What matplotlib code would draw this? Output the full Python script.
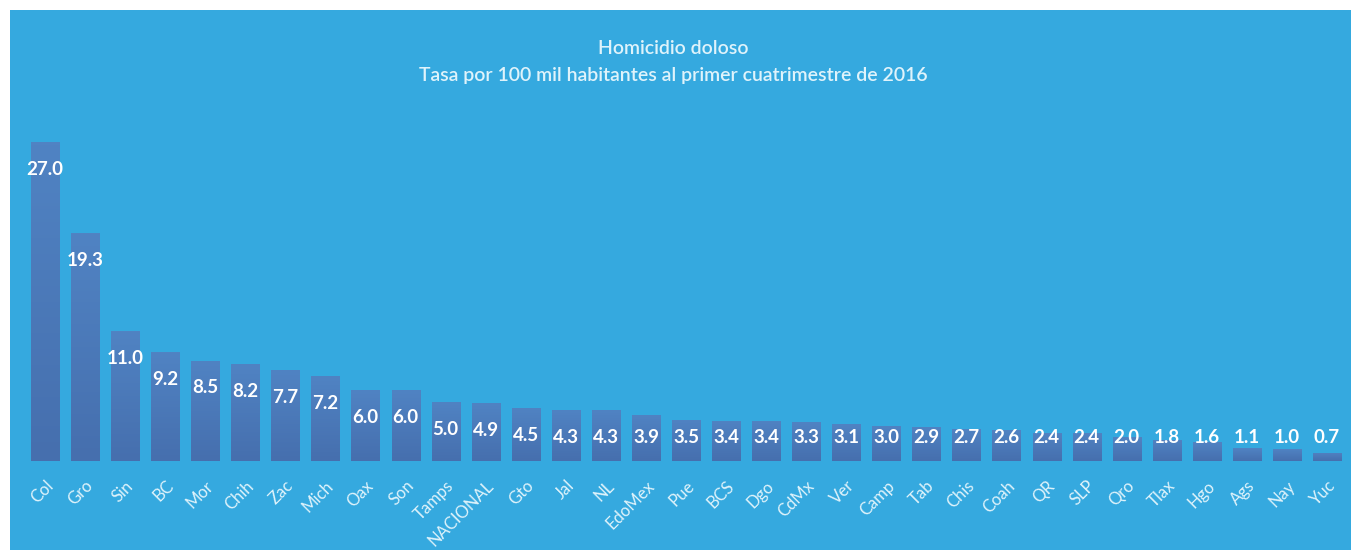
import numpy as np
import matplotlib.pyplot as plt
from matplotlib.patches import Rectangle
from matplotlib.colors import LinearSegmentedColormap

estados = ['Col', 'Gro', 'Sin', 'BC', 'Mor', 'Chih', 'Zac', 'Mich', 'Oax', 'Son',
           'Tamps', 'NACIONAL', 'Gto', 'Jal', 'NL', 'EdoMex', 'Pue', 'BCS', 'Dgo',
           'CdMx', 'Ver', 'Camp', 'Tab', 'Chis', 'Coah', 'QR', 'SLP', 'Qro',
           'Tlax', 'Hgo', 'Ags', 'Nay', 'Yuc']
tasa = [27.0, 19.3, 11.0, 9.2, 8.5, 8.2, 7.7, 7.2, 6.0, 6.0,
        5.0, 4.9, 4.5, 4.3, 4.3, 3.9, 3.5, 3.4, 3.4,
        3.3, 3.1, 3.0, 2.9, 2.7, 2.6, 2.4, 2.4, 2.0,
        1.8, 1.6, 1.1, 1.0, 0.7]

fondo = '#35a9df'
barra = '#4a79b9'
texto_claro = '#dff3fb'

plt.rcParams['font.family'] = ['Lato', 'DejaVu Sans']

fig = plt.figure(figsize=(13.51, 5.5), dpi=100)
fig.patch.set_facecolor('white')
fig.patches.append(Rectangle((10 / 1351, 0), 1 - 10 / 1351, 1 - 10 / 550,
                             transform=fig.transFigure, facecolor=fondo,
                             edgecolor='none', zorder=-5))

ax = fig.add_axes([25 / 1351, 89 / 550, 1322 / 1351, 354 / 550])
ax.set_facecolor('none')
x = np.arange(len(estados))
bars = ax.bar(x, tasa, width=0.7, color=barra, zorder=2)

# gradiente sutil en cada barra
grad = np.linspace(0, 1, 100).reshape(-1, 1)
cmap = LinearSegmentedColormap.from_list('g', ['#466fae', '#5083c3'])
for b in bars:
    x0, w, h = b.get_x(), b.get_width(), b.get_height()
    im = ax.imshow(grad, extent=[x0, x0 + w, 0, h], aspect='auto', origin='lower',
                   cmap=cmap, zorder=3)
    im.set_clip_path(b)

for xi, v in zip(x, tasa):
    ypos = max(v - 2.3, 1.95)
    ax.text(xi, ypos, f'{v:.1f}', ha='center', va='center', color='white',
            fontsize=13.5, fontweight='bold', zorder=4)

ax.set_xlim(-0.5, len(estados) - 0.5)
ax.set_ylim(0, 30)
ax.set_xticks(x)
ax.set_xticklabels(estados, rotation=45, ha='right', rotation_mode='anchor',
                   color=texto_claro, fontsize=12)
ax.tick_params(axis='x', length=0, pad=12)
ax.set_yticks([])
for s in ax.spines.values():
    s.set_visible(False)

fig.text(673 / 1351, 1 - 48 / 550, 'Homicidio doloso', ha='center', va='center',
         color=texto_claro, fontsize=14, fontweight='semibold')
fig.text(673 / 1351, 1 - 75 / 550, 'Tasa por 100 mil habitantes al primer cuatrimestre de 2016',
         ha='center', va='center', color=texto_claro, fontsize=14, fontweight='semibold')

fig.savefig('out.png', dpi=100, facecolor=fig.get_facecolor())
